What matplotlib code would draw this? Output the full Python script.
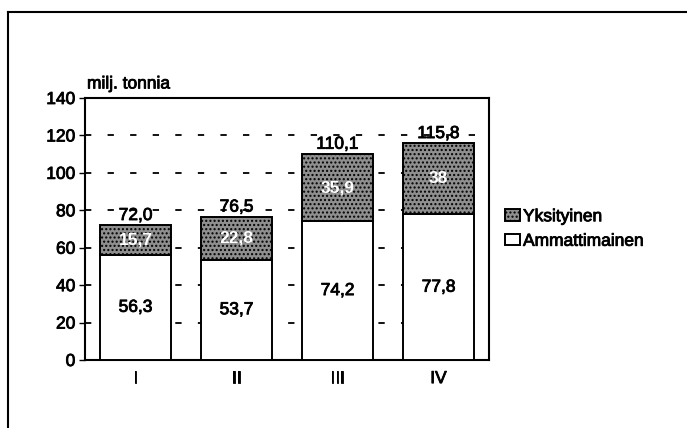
import matplotlib
matplotlib.use('Agg')
import matplotlib.pyplot as plt
import matplotlib.patheffects as pe
from matplotlib.lines import Line2D

# data
categories = ['I', 'II', 'III', 'IV']
ammattimainen = [56.3, 53.7, 74.2, 77.8]
yksityinen = [15.7, 22.8, 35.9, 38.0]
amm_labels = ['56,3', '53,7', '74,2', '77,8']
yks_labels = ['15,7', '22,8', '35,9', '38']
total_labels = ['72,0', '76,5', '110,1', '115,8']

plt.rcParams['font.family'] = ['Liberation Sans', 'DejaVu Sans']
plt.rcParams['hatch.color'] = '#555555'
fs = 12.5
heavy = [pe.withStroke(linewidth=0.6, foreground='black')]

fig = plt.figure(figsize=(6.87, 4.28), dpi=100)
ax = fig.add_axes([85 / 687, 1 - 360 / 428, (489 - 85) / 687, (360 - 98) / 428])

x = list(range(len(categories)))
ax.bar(x, ammattimainen, width=0.71, color='white', edgecolor='black',
       linewidth=1.4, label='Ammattimainen', zorder=3)
ax.bar(x, yksityinen, width=0.71, bottom=ammattimainen, color='#8f8f8f',
       edgecolor='black', linewidth=1.4, hatch='....', label='Yksityinen', zorder=3)

for i in x:
    a = ammattimainen[i]
    y = yksityinen[i]
    ax.text(i, a / 2, amm_labels[i], ha='center', va='center', fontsize=fs, zorder=4,
            path_effects=heavy)
    ax.text(i, a + y / 2, yks_labels[i], ha='center', va='center', fontsize=fs,
            color='white', fontweight='bold', zorder=4)
    ax.text(i, a + y + 1.2, total_labels[i], ha='center', va='bottom', fontsize=fs, zorder=4,
            path_effects=heavy)

ax.set_xlim(-0.5, 3.5)
ax.set_ylim(0, 140)
ax.set_yticks(range(0, 141, 20))
ax.set_xticks(x)
ax.set_xticklabels(categories, fontsize=fs)
ax.tick_params(axis='x', length=0, pad=8)
ax.tick_params(axis='y', length=4, width=1, labelsize=fs, pad=3)
ax.yaxis.grid(True, color='black', linestyle=(0, (3.5, 9)), linewidth=1.3, zorder=0)
ax.set_axisbelow(True)
for s in ax.spines.values():
    s.set_linewidth(1.5)
for t in ax.get_xticklabels() + ax.get_yticklabels():
    t.set_path_effects(heavy)

ax.text(0.005, 1.025, 'milj. tonnia', transform=ax.transAxes, fontsize=fs,
        ha='left', va='bottom', path_effects=heavy)

handles, labels = ax.get_legend_handles_labels()
leg = ax.legend(handles[::-1], labels[::-1], loc='center left', bbox_to_anchor=(1.04, 0.50),
                frameon=False, fontsize=fs, handlelength=0.86, handleheight=0.65,
                handletextpad=0.17, labelspacing=0.55, borderpad=0, borderaxespad=0)
for t in leg.get_texts():
    t.set_path_effects(heavy)

# outer frame (left and top only visible)
fig.add_artist(Line2D([8 / 687, 8 / 687], [0, 1 - 12 / 428], color='black', linewidth=1.5))
fig.add_artist(Line2D([8 / 687, 1], [1 - 12 / 428, 1 - 12 / 428], color='black', linewidth=1.5))

fig.savefig('out.png', dpi=100)
